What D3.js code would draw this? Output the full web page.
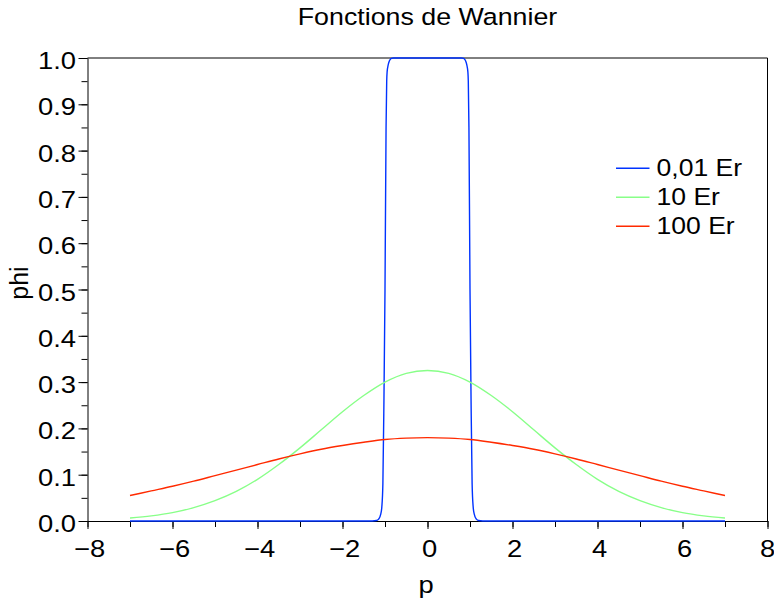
<!DOCTYPE html>
<html>
<head>
<meta charset="utf-8">
<script src="https://cdn.jsdelivr.net/npm/d3@7/dist/d3.min.js"></script>
<style>
  html, body { margin: 0; padding: 0; background: #fff; }
  svg { display: block; font-family: "Liberation Sans", Arial, sans-serif; }
</style>
</head>
<body>
<svg id="chart" width="774" height="603"></svg>
<script>
// ---- data ----
const title = "Fonctions de Wannier";
const xLabel = "p";
const yLabel = "phi";
const seriesNames = ["0,01 Er", "10 Er", "100 Er"];
const seriesColors = ["#0033ff", "#88ff88", "#ff2a00"];

const xTicks = [-8, -6, -4, -2, 0, 2, 4, 6, 8];
const yTicks = [0, 0.1, 0.2, 0.3, 0.4, 0.5, 0.6, 0.7, 0.8, 0.9, 1.0];

const blueP = [-7, -1.3, -1.2, -1.15, -1.1, -1.075, -1.05, -1.025, -1.0, -0.975, -0.96, -0.95, -0.925, -0.9, -0.875, -0.85, -0.8,
               0.8, 0.85, 0.875, 0.9, 0.925, 0.95, 0.96, 0.975, 1.0, 1.025, 1.05, 1.075, 1.1, 1.15, 1.2, 1.3, 7];
const blueV = [0, 0, 0.001, 0.004, 0.015, 0.03, 0.08, 0.26, 0.5, 0.85, 0.95, 0.97, 0.985, 0.993, 0.997, 0.999, 1.0,
               1.0, 0.999, 0.997, 0.993, 0.985, 0.97, 0.95, 0.85, 0.5, 0.26, 0.08, 0.03, 0.015, 0.004, 0.001, 0, 0];

const gaussP = [-7, -6.5, -6, -5.5, -5, -4.5, -4, -3.5, -3, -2.5, -2, -1.5, -1, -0.5, 0,
                0.5, 1, 1.5, 2, 2.5, 3, 3.5, 4, 4.5, 5, 5.5, 6, 6.5, 7];
const greenV = [0.0064, 0.011, 0.018, 0.029, 0.044, 0.064, 0.090, 0.122, 0.158, 0.197, 0.236, 0.271, 0.300, 0.319, 0.325,
                0.319, 0.300, 0.271, 0.236, 0.197, 0.158, 0.122, 0.090, 0.064, 0.044, 0.029, 0.018, 0.011, 0.0064];
const redV = [0.055, 0.065, 0.075, 0.086, 0.098, 0.110, 0.122, 0.134, 0.145, 0.155, 0.163, 0.170, 0.176, 0.179, 0.180,
              0.179, 0.176, 0.170, 0.163, 0.155, 0.145, 0.134, 0.122, 0.110, 0.098, 0.086, 0.075, 0.065, 0.055];

// ---- layout ----
const L = 87.5, R = 767.5, T = 58, B = 521;
const SX = 1.14; // horizontal text stretch

const svg = d3.select("#chart");
const x = d3.scaleLinear().domain([-8, 8]).range([L, R]);
const y = d3.scaleLinear().domain([0, 1]).range([B, T]);

// frame (top & right)
svg.append("line").attr("x1", L).attr("x2", R).attr("y1", T).attr("y2", T).attr("stroke", "#000");
svg.append("line").attr("x1", R).attr("x2", R).attr("y1", T).attr("y2", B).attr("stroke", "#000");

// minor ticks
const xMinor = d3.range(-8, 8.001, 1);
const yMinor = d3.range(0, 1.0001, 0.05);
svg.append("g").attr("transform", `translate(0,${B})`)
  .call(d3.axisBottom(x).tickValues(xMinor).tickSize(6).tickFormat(""))
  .call(g => g.select(".domain").remove());
svg.append("g").attr("transform", `translate(${L},0)`)
  .call(d3.axisLeft(y).tickValues(yMinor).tickSize(6).tickFormat(""))
  .call(g => g.select(".domain").remove());

// major axes
const xa = svg.append("g").attr("transform", `translate(0,${B})`)
  .call(d3.axisBottom(x).tickValues(xTicks).tickSize(8).tickSizeOuter(0).tickFormat(d3.format("d")));
xa.selectAll("text")
  .attr("font-size", 24).attr("fill", "#000")
  .attr("y", 0).attr("dy", 0)
  .attr("transform", d => `translate(${d === 8 ? -0.5 : 1.5},36) scale(${SX},1)`);

const ya = svg.append("g").attr("transform", `translate(${L},0)`)
  .call(d3.axisLeft(y).tickValues(yTicks).tickSize(9).tickSizeOuter(0).tickFormat(d3.format(".1f")));
ya.selectAll("text")
  .attr("font-size", 24).attr("fill", "#000")
  .attr("x", 0).attr("dy", 0)
  .attr("transform", `translate(-11.5,10.5) scale(${SX},1)`);

svg.selectAll(".domain, .tick line").attr("stroke", "#000");

// curves
const line = d3.line().x(d => x(d[0])).y(d => y(d[1])).curve(d3.curveMonotoneX);
const series = [
  d3.zip(blueP, blueV),
  d3.zip(gaussP, greenV),
  d3.zip(gaussP, redV)
];
series.forEach((s, i) => {
  svg.append("path").datum(s)
    .attr("fill", "none")
    .attr("stroke", seriesColors[i])
    .attr("stroke-width", 1.4)
    .attr("d", line);
});

// title
svg.append("text")
  .attr("text-anchor", "middle")
  .attr("font-size", 23.5)
  .attr("transform", `translate(427.5,25) scale(${SX},1)`)
  .text(title);

// x label
svg.append("text")
  .attr("text-anchor", "middle")
  .attr("font-size", 24)
  .attr("transform", `translate(426,593) scale(${SX},1)`)
  .text(xLabel);

// y label
svg.append("text")
  .attr("text-anchor", "middle")
  .attr("font-size", 25)
  .attr("transform", `translate(28,283) rotate(-90)`)
  .text(yLabel);

// legend
const legY = [168.3, 197.3, 226.3];
seriesNames.forEach((n, i) => {
  svg.append("line")
    .attr("x1", 616).attr("x2", 649.5)
    .attr("y1", legY[i]).attr("y2", legY[i])
    .attr("stroke", seriesColors[i]).attr("stroke-width", 1.4);
  svg.append("text")
    .attr("font-size", 23.3)
    .attr("transform", `translate(656.5,${legY[i] + 7.8}) scale(${SX},1)`)
    .text(n);
});
</script>
</body>
</html>
